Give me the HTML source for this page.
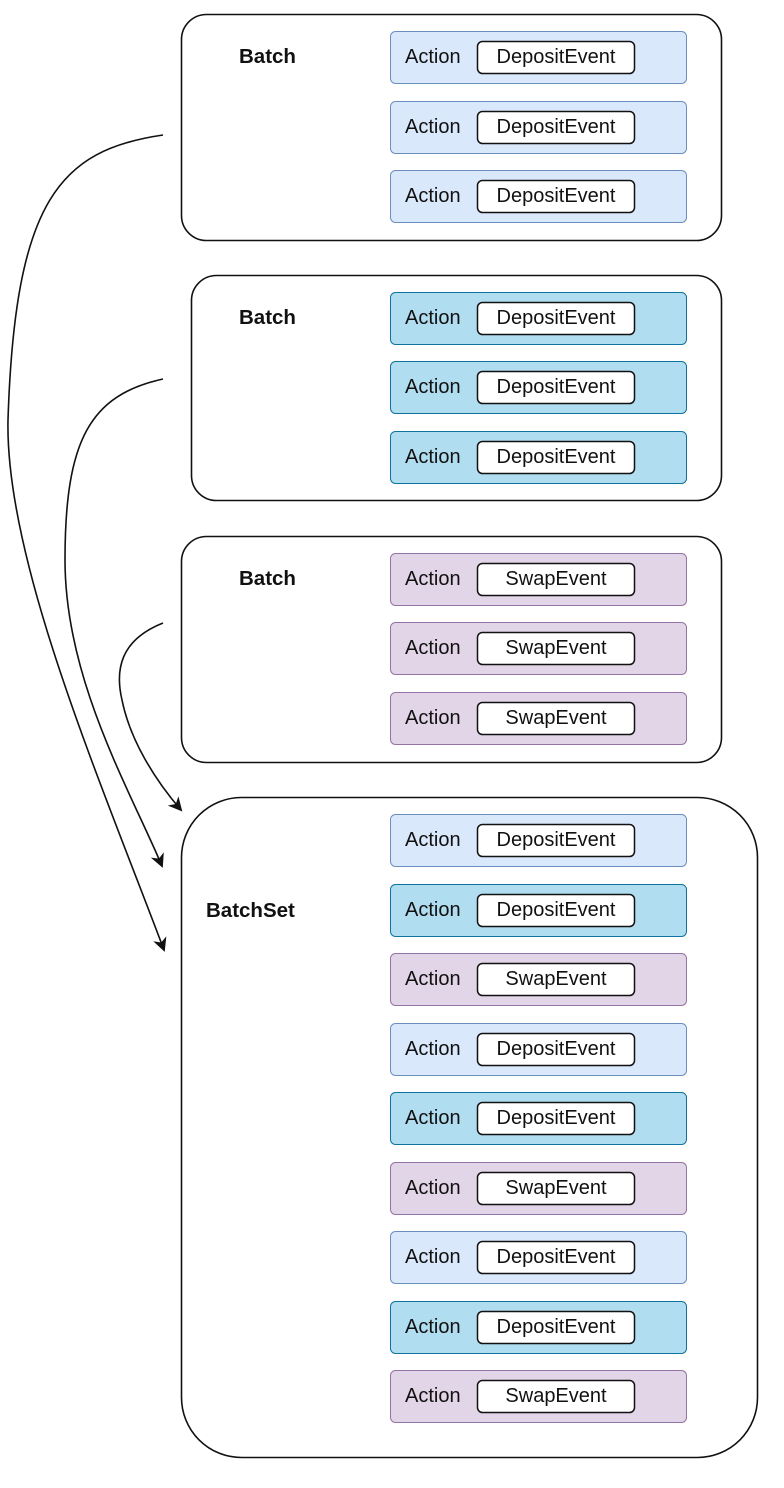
<!DOCTYPE html>
<html><head><meta charset="utf-8"><style>
html,body{margin:0;padding:0;background:#fff;}
svg{display:block;}
text{font-family:"Liberation Sans",Arial,sans-serif;font-size:20px;fill:#111;}
.b{font-weight:bold;font-size:20.5px;}
.t{stroke:#6c8ebf;fill:#dae8fc;}
.c{stroke:#10739e;fill:#b1ddf0;}
.p{stroke:#9673a6;fill:#e1d5e7;}
.i{fill:#fff;stroke:#111;stroke-width:1.5;}
</style></head><body>
<svg width="784" height="1488" viewBox="0 0 784 1488" xmlns="http://www.w3.org/2000/svg">
<defs>
<marker id="a" markerWidth="14" markerHeight="14" refX="12" refY="7" orient="auto" markerUnits="userSpaceOnUse">
<path d="M0,0 L14,7 L0,14 L4,7 Z" fill="#111"/>
</marker>
<g id="rd"><text x="405" y="32">Action</text><rect class="i" x="477.5" y="10.5" width="157" height="32" rx="5"/><text x="556" y="32" text-anchor="middle">DepositEvent</text></g>
<g id="rs"><text x="405" y="32">Action</text><rect class="i" x="477.5" y="10.5" width="157" height="32" rx="5"/><text x="556" y="32" text-anchor="middle">SwapEvent</text></g>
</defs>
<g fill="none" stroke="#111" stroke-width="1.6">
<rect x="181.5" y="14.5" width="540" height="226" rx="25"/>
<rect x="191.5" y="275.5" width="530" height="225" rx="25"/>
<rect x="181.5" y="536.5" width="540" height="226" rx="25"/>
<rect x="181.5" y="797.5" width="576" height="660" rx="60"/>
<path d="M163,135 C60,150 15,200 8,420 C5,560 100,780 164,950" marker-end="url(#a)"/>
<path d="M163,379 C90,395 65,440 65,560 C65,680 130,790 162,866" marker-end="url(#a)"/>
<path d="M163,623 C120,640 115,670 122,700 C130,740 155,780 181,810" marker-end="url(#a)"/>
</g>
<text class="b" x="239" y="63">Batch</text>
<text class="b" x="239" y="324">Batch</text>
<text class="b" x="239" y="585">Batch</text>
<text class="b" x="206" y="917">BatchSet</text>

<g transform="translate(0,31)"><rect class="t" x="390.5" y="0.5" width="296" height="52" rx="5"/><use href="#rd"/></g>
<g transform="translate(0,101)"><rect class="t" x="390.5" y="0.5" width="296" height="52" rx="5"/><use href="#rd"/></g>
<g transform="translate(0,170)"><rect class="t" x="390.5" y="0.5" width="296" height="52" rx="5"/><use href="#rd"/></g>

<g transform="translate(0,292)"><rect class="c" x="390.5" y="0.5" width="296" height="52" rx="5"/><use href="#rd"/></g>
<g transform="translate(0,361)"><rect class="c" x="390.5" y="0.5" width="296" height="52" rx="5"/><use href="#rd"/></g>
<g transform="translate(0,431)"><rect class="c" x="390.5" y="0.5" width="296" height="52" rx="5"/><use href="#rd"/></g>

<g transform="translate(0,553)"><rect class="p" x="390.5" y="0.5" width="296" height="52" rx="5"/><use href="#rs"/></g>
<g transform="translate(0,622)"><rect class="p" x="390.5" y="0.5" width="296" height="52" rx="5"/><use href="#rs"/></g>
<g transform="translate(0,692)"><rect class="p" x="390.5" y="0.5" width="296" height="52" rx="5"/><use href="#rs"/></g>

<g transform="translate(0,814)"><rect class="t" x="390.5" y="0.5" width="296" height="52" rx="5"/><use href="#rd"/></g>
<g transform="translate(0,884)"><rect class="c" x="390.5" y="0.5" width="296" height="52" rx="5"/><use href="#rd"/></g>
<g transform="translate(0,953)"><rect class="p" x="390.5" y="0.5" width="296" height="52" rx="5"/><use href="#rs"/></g>
<g transform="translate(0,1023)"><rect class="t" x="390.5" y="0.5" width="296" height="52" rx="5"/><use href="#rd"/></g>
<g transform="translate(0,1092)"><rect class="c" x="390.5" y="0.5" width="296" height="52" rx="5"/><use href="#rd"/></g>
<g transform="translate(0,1162)"><rect class="p" x="390.5" y="0.5" width="296" height="52" rx="5"/><use href="#rs"/></g>
<g transform="translate(0,1231)"><rect class="t" x="390.5" y="0.5" width="296" height="52" rx="5"/><use href="#rd"/></g>
<g transform="translate(0,1301)"><rect class="c" x="390.5" y="0.5" width="296" height="52" rx="5"/><use href="#rd"/></g>
<g transform="translate(0,1370)"><rect class="p" x="390.5" y="0.5" width="296" height="52" rx="5"/><use href="#rs"/></g>
</svg>
</body></html>
